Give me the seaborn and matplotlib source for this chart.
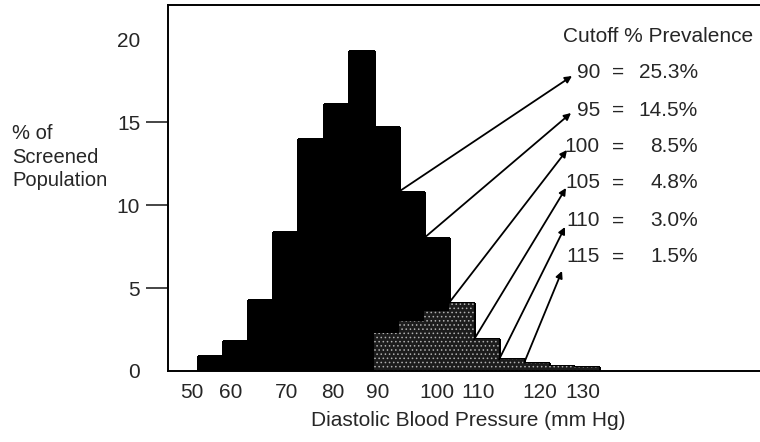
import matplotlib
matplotlib.use("Agg")
import matplotlib.pyplot as plt
import seaborn as sns
import numpy as np

# ---- data ----
bin_left = [50, 55, 60, 65, 70, 75, 80, 85, 90, 95, 100, 105, 110, 115, 120, 125]
pct_all = [0.9, 1.8, 4.3, 8.4, 14.0, 16.1, 19.3, 14.7, 10.8, 8.0, 4.1, 1.9, 0.7, 0.5, 0.3, 0.25]
pct_shaded = [0, 0, 0, 0, 0, 0, 0, 2.3, 3.0, 3.6, 4.1, 1.9, 0.7, 0.5, 0.3, 0.25]
cutoffs = [90, 95, 100, 105, 110, 115]
prevalence = ["25.3%", "14.5%", "8.5%", "4.8%", "3.0%", "1.5%"]
ytick_vals = [0, 5, 10, 15, 20]
xtick_labels = ["50", "60", "70", "80", "90", "100", "110", "120", "130"]

sns.set_style("white")
plt.rcParams["font.family"] = ["Liberation Sans", "DejaVu Sans"]
plt.rcParams["hatch.linewidth"] = 0.6

FS = 15
W, H = 760, 442
fig = plt.figure(figsize=(W / 100, H / 100), dpi=100)

def fx(px):
    return px / W

def fy(py):
    return 1 - py / H

ax = fig.add_axes([fx(168), fy(371), fx(760) - fx(168), fy(5) - fy(371)])

edges = bin_left + [bin_left[-1] + 5]
sns.histplot(x=bin_left, weights=pct_all, bins=edges, color="black",
             edgecolor="black", linewidth=0.8, alpha=1, ax=ax)
n0 = len(ax.patches)
for p in ax.patches[:n0]:
    p.set_antialiased(False)
sns.histplot(x=bin_left, weights=pct_shaded, bins=edges, color="#1c1c1c",
             edgecolor="#b0b0b0", linewidth=0, alpha=1, ax=ax)
for p in ax.patches[n0:]:
    p.set_hatch("....")
    p.set_antialiased(False)

ax.set_xlim(44.0, 162.0)
ax.set_ylim(0, 22.05)
ax.set_xlabel("")
ax.set_ylabel("")

# spines
for s in ["left", "top", "bottom"]:
    ax.spines[s].set_visible(True)
    ax.spines[s].set_linewidth(1.4)
    ax.spines[s].set_color("black")
ax.spines["right"].set_visible(False)

# y ticks
ax.set_yticks(ytick_vals)
ax.set_yticklabels([str(v) for v in ytick_vals], fontsize=FS)
ax.tick_params(axis="y", direction="out", length=16, width=1.2, pad=4, left=True)
yt = ax.yaxis.get_major_ticks()
yt[0].tick1line.set_visible(False)
yt[-1].tick1line.set_visible(False)

# x tick labels (placed where the reference prints them)
xtick_pos = [48.8, 56.4, 67.7, 76.9, 85.7, 97.6, 105.8, 118.2, 126.7]
ax.set_xticks(xtick_pos)
ax.set_xticklabels(xtick_labels, fontsize=FS)
ax.tick_params(axis="x", length=0, pad=9)

# axis titles
fig.text(fx(12), fy(157), "% of\nScreened\nPopulation", ha="left", va="center",
         fontsize=FS - 0.5, linespacing=1.3)
fig.text(fx(468), fy(420), "Diastolic Blood Pressure (mm Hg)", ha="center",
         va="center", fontsize=FS)

# prevalence table
fig.text(fx(563), fy(37), "Cutoff % Prevalence", ha="left", va="center", fontsize=FS)
row_y = [72, 110, 147, 183, 221, 257]
tips = [(572, 76), (571, 113), (567, 150), (566, 188), (565, 227), (562, 271)]
for c, prev, ry, tip in zip(cutoffs, prevalence, row_y, tips):
    fig.text(fx(600), fy(ry), str(c), ha="right", va="center", fontsize=FS)
    fig.text(fx(618), fy(ry), "=", ha="center", va="center", fontsize=FS)
    fig.text(fx(698), fy(ry), prev, ha="right", va="center", fontsize=FS)
    h = pct_all[bin_left.index(c)]
    ax.annotate("", xy=(fx(tip[0]), fy(tip[1])), xycoords="figure fraction",
                xytext=(c, h), textcoords="data",
                arrowprops=dict(arrowstyle="-|>", color="black", lw=1.3,
                                shrinkA=0, shrinkB=0, mutation_scale=10),
                annotation_clip=False)

fig.savefig("out.png", dpi=100)
